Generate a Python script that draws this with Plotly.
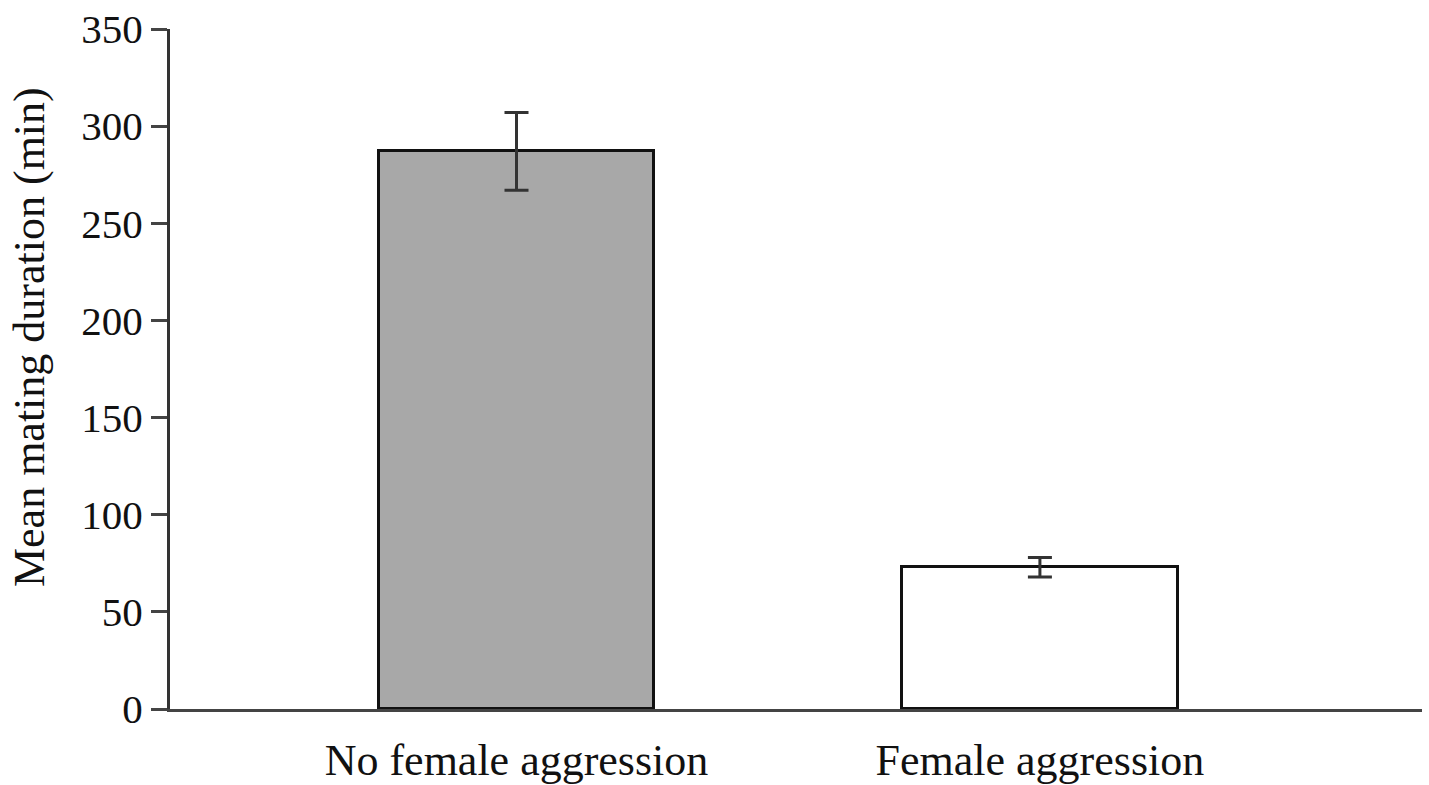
import plotly.graph_objects as go

# Mean mating duration by female behaviour
categories = ["No female aggression", "Female aggression"]
mean_duration = [287, 73]
sem = [20, 5]
fill_colors = ["#a8a8a8", "#ffffff"]

y_ticks = [0, 50, 100, 150, 200, 250, 300, 350]
y_title = "Mean mating duration (min)"

font_family = "Liberation Serif, Times New Roman, serif"

fig = go.Figure()
fig.add_trace(go.Bar(
    x=categories,
    y=mean_duration,
    width=0.526,
    marker=dict(color=fill_colors, line=dict(color="#111111", width=3)),
    error_y=dict(type="data", array=sem, visible=True,
                 color="#333333", thickness=3, width=12),
    showlegend=False,
))

fig.update_layout(
    width=1429, height=785,
    margin=dict(l=170, r=7, t=29, b=76),
    paper_bgcolor="white", plot_bgcolor="white",
    font=dict(family=font_family, color="#111111"),
    bargap=0,
)

fig.update_xaxes(
    type="category",
    range=[-0.662, 1.730],
    automargin=False,
    showline=True, linecolor="#444444", linewidth=3,
    ticks="", showgrid=False, zeroline=False,
    tickfont=dict(size=44, family=font_family),
    ticklabelstandoff=10,
)

fig.update_yaxes(
    range=[0, 350],
    automargin=False,
    tickvals=y_ticks,
    showline=True, linecolor="#333333", linewidth=3,
    ticks="outside", ticklen=16, tickwidth=3, tickcolor="#444444",
    showgrid=False, zeroline=False,
    tickfont=dict(size=41, family=font_family),
)

# Vertical axis title, set slightly above the plot's mid-height
fig.add_annotation(
    text=y_title, textangle=-90,
    xref="paper", yref="paper", x=0, y=0.547,
    xanchor="center", yanchor="middle", xshift=-141,
    showarrow=False,
    font=dict(size=44, family=font_family, color="#111111"),
)

fig.write_html("out.html")
